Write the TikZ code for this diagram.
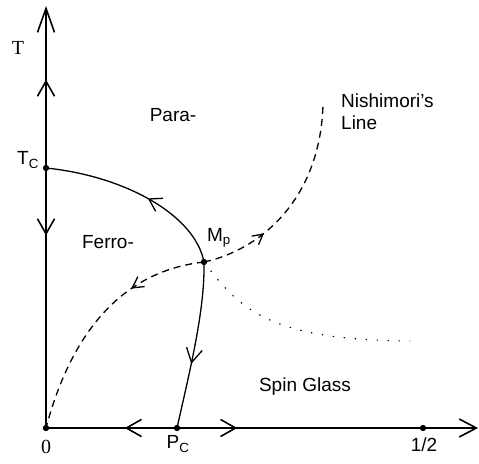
\documentclass[tikz,border=0pt]{standalone}
\usepackage{fontspec}
\setmainfont{Liberation Sans}
\newfontfamily\serifface{Liberation Serif}
\usetikzlibrary{arrows.meta,decorations.markings}

\begin{document}
\begin{tikzpicture}[
    x=1pt,
    y=-1pt,
    font=\fontsize{19}{22}\selectfont,
    axis/.style={line width=1.6pt},
    flowline/.style={line width=1.3pt},
    nishimori/.style={line width=1.3pt,dash pattern=on 7pt off 5pt},
    glassline/.style={line width=1.1pt,dash pattern=on 1.4pt off 9.6pt},
    point/.style={circle,fill=black,minimum size=6pt,inner sep=0pt},
    markfwd/.style 2 args={postaction={decorate},decoration={markings,
      mark=at position #1 with {\arrow{Straight Barb[#2,line width=1.3pt]}}}},
    markback/.style 2 args={postaction={decorate},decoration={markings,
      mark=at position #1 with {\arrowreversed{Straight Barb[#2,line width=1.3pt]}}}}
  ]
    \useasboundingbox (0,0) rectangle (479,463);

    % fixed points
    \node[point] (O) at (46,428) {};
    \node[point] (Tc) at (46,168) {};
    \node[point] (Mp) at (204,262) {};
    \node[point] (Pc) at (177,428) {};
    \node[point] (half) at (423,428) {};
    \coordinate (Ttop) at (46,6);
    \coordinate (Pend) at (478,428);
    \coordinate (NLtop) at (323,105);
    \coordinate (SGend) at (410,341);

    % axes
    \draw[axis,-{Straight Barb[length=24pt,width=17pt,line width=1.6pt]},
      markback={0.457}{length=15pt,width=17pt},markfwd={0.825}{length=15pt,width=17pt}]
      (O.center) -- (Ttop);
    \draw[axis,-{Straight Barb[length=17pt,width=18pt,line width=1.6pt]},
      markback={0.183}{length=15pt,width=17pt},markfwd={0.442}{length=15pt,width=17pt}]
      (O.center) -- (Pend);

    % renormalization flows
    \draw[flowline,markfwd={0.45}{length=12pt,width=15pt}]
      (Mp.center) .. controls (195,215) and (125,176) .. (Tc.center);
    \draw[flowline,markfwd={0.61}{length=14pt,width=16pt}]
      (Mp.center) .. controls (205,310) and (190,370) .. (Pc.center);

    % Nishimori line
    \draw[nishimori,markfwd={0.32}{length=11pt,width=12pt}]
      (Mp.center) .. controls (150,268) and (80,300) .. (O.center);
    \draw[nishimori,markfwd={0.315}{length=10pt,width=11pt}]
      (Mp.center) .. controls (260,250) and (320,200) .. (NLtop);

    % spin glass boundary
    \draw[glassline] (Mp.center) .. controls (240,310) and (270,340) .. (SGend);

    % redraw points on top
    \foreach \p in {O,Tc,Mp,Pc,half} {
      \fill (\p) circle (3pt);
    }

    % labels
    \node (Tlab) at (18,48) {\serifface\fontsize{20}{22}\selectfont T};
    \node (Plab) at (484,403) {P};
    \node (Tclab) at (28,160) {T\textsubscript{C}};
    \node (Mplab) at (219,238) {M\textsubscript{p}};
    \node (Pclab) at (178,444) {P\textsubscript{C}};
    \node (zerolab) at (46,447) {\serifface\fontsize{20}{22}\selectfont 0};
    \node (halflab) at (424,445) {1/2};
    \node (para) at (173,115) {Para-};
    \node (ferro) at (108,242) {Ferro-};
    \node (glass) at (305,387) {Spin Glass};
    \node[anchor=west,align=left,inner sep=0pt] (nishilab) at (341,112) {Nishimori's\\Line};
  \end{tikzpicture}
\end{document}
